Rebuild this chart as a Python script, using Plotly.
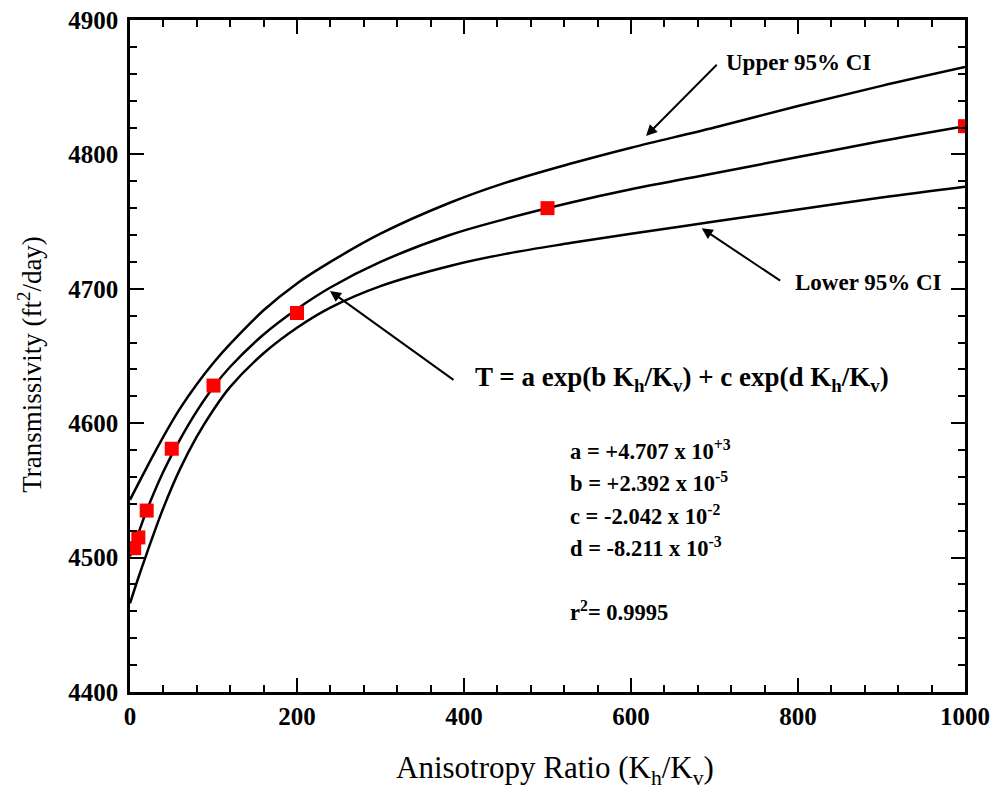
import plotly.graph_objects as go

# Measured data points
ratio = [5, 10, 20, 50, 100, 200, 500, 1000]
transmissivity = [4507, 4515, 4535, 4581, 4628, 4682, 4760, 4821]

# Curves
curve_x = [0, 10, 20, 40, 60, 80, 100, 120, 160, 200, 240, 300, 383, 450, 527, 600, 700, 800, 900, 1000]
fit_mid = [4501, 4518, 4535, 4564, 4588, 4609, 4627, 4642, 4666, 4685, 4701, 4720, 4740, 4752, 4764, 4774, 4786, 4798, 4810, 4821]
ci_upper = [4543, 4555, 4567, 4590, 4611, 4629, 4645, 4659, 4684, 4704, 4720, 4741, 4764, 4779, 4793, 4805, 4820, 4836, 4851, 4865]
ci_lower = [4466, 4485, 4503, 4537, 4566, 4590, 4610, 4627, 4652, 4671, 4686, 4702, 4717, 4726, 4734, 4741, 4750, 4759, 4768, 4776]

coef_lines = [
    "a = +4.707 x 10<sup>+3</sup>",
    "b = +2.392 x 10<sup>-5</sup>",
    "c = -2.042 x 10<sup>-2</sup>",
    "d = -8.211 x 10<sup>-3</sup>",
    "r<sup>2</sup>= 0.9995",
]
coef_y = [4580, 4556, 4532, 4508, 4460]

FONT = "Liberation Serif"

fig = go.Figure()
for ys in (ci_upper, fit_mid, ci_lower):
    fig.add_trace(go.Scatter(x=curve_x, y=ys, mode="lines",
                             line=dict(color="black", width=2.5, shape="spline", smoothing=1.0),
                             showlegend=False, hoverinfo="skip"))
fig.add_trace(go.Scatter(x=ratio, y=transmissivity, mode="markers",
                         marker=dict(symbol="square", size=14, color="#ff0000", line=dict(width=0)),
                         showlegend=False))

annotations = []
# arrows
for (tx, ty, hx, hy) in [(704.5, 4867.8, 618, 4813.7), (780.5, 4705.3, 684.7, 4745), (389.2, 4631.4, 239.5, 4698.4)]:
    annotations.append(dict(x=hx, y=hy, ax=tx, ay=ty, xref="x", yref="y", axref="x", ayref="y",
                            text="", showarrow=True, arrowhead=2, arrowsize=1.1, arrowwidth=2,
                            arrowcolor="black"))
bold = dict(family=FONT, size=23, color="black", weight="bold")
annotations.append(dict(x=801, y=4868.5, xref="x", yref="y", text="Upper 95% CI", showarrow=False,
                        font=bold, xanchor="center", yanchor="middle"))
annotations.append(dict(x=884, y=4705, xref="x", yref="y", text="Lower 95% CI", showarrow=False,
                        font=bold, xanchor="center", yanchor="middle"))
annotations.append(dict(x=661, y=4633, xref="x", yref="y",
                        text="T = a exp(b K<sub>h</sub>/K<sub>v</sub>) + c exp(d K<sub>h</sub>/K<sub>v</sub>)",
                        showarrow=False, font=dict(family=FONT, size=27, color="black", weight="bold"),
                        xanchor="center", yanchor="middle"))
for t, yv in zip(coef_lines, coef_y):
    annotations.append(dict(x=525, y=yv, xref="x", yref="y", text=t, showarrow=False,
                            font=dict(family=FONT, size=22.5, color="black", weight="bold"),
                            xanchor="left", yanchor="middle"))
# axis titles placed as annotations (paper coordinates)
annotations.append(dict(x=-0.12, y=0.488, xref="paper", yref="paper", textangle=-90,
                        text="Transmissivity (ft<sup>2</sup>/day)", showarrow=False,
                        font=dict(family=FONT, size=27, color="black"),
                        xanchor="center", yanchor="middle"))
annotations.append(dict(x=0.509, y=-0.116, xref="paper", yref="paper",
                        text="Anisotropy Ratio (K<sub>h</sub>/K<sub>v</sub>)", showarrow=False,
                        font=dict(family=FONT, size=31, color="black"),
                        xanchor="center", yanchor="middle"))

axis_common = dict(showline=True, linewidth=2.5, linecolor="black", mirror="ticks",
                   ticks="inside", ticklen=14, tickwidth=2, tickcolor="black",
                   showgrid=False, zeroline=False, automargin=False,
                   tickfont=dict(family=FONT, size=25, color="black", weight="bold"))

fig.update_layout(
    width=992, height=795,
    margin=dict(l=130, r=27, t=20, b=103),
    paper_bgcolor="white", plot_bgcolor="white",
    xaxis=dict(range=[0, 1000], tick0=0, dtick=200,
               minor=dict(ticks="inside", ticklen=7, tickwidth=1.5, dtick=40, tickcolor="black", showgrid=False),
               **axis_common),
    yaxis=dict(range=[4400, 4900], tick0=4400, dtick=100, ticklabelstandoff=4,
               minor=dict(ticks="inside", ticklen=7, tickwidth=1.5, dtick=20, tickcolor="black", showgrid=False),
               **axis_common),
    annotations=annotations,
)

fig.write_html("out.html")
